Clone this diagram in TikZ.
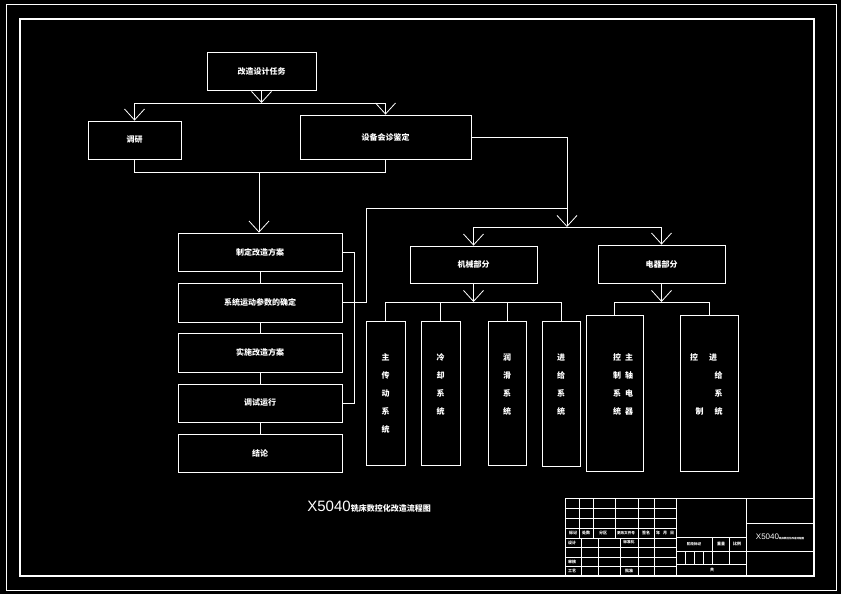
\documentclass[tikz,border=0pt]{standalone}
\usepackage{fontspec}
\setmainfont{Noto Sans CJK SC}
\newfontfamily\cadfont{Liberation Sans}
\usetikzlibrary{arrows.meta}

\begin{document}
\begin{tikzpicture}[x=1pt,y=-1pt,color=white,line width=0.8pt,
        >={Straight Barb[length=11pt,width=20pt]},
        box/.style={draw, rectangle, inner sep=0pt, font=\fontsize{8}{10}\selectfont\bfseries},
        vbox/.style={box, align=center, font=\fontsize{8}{18}\selectfont\bfseries},
        tb/.style={inner sep=0pt, font=\fontsize{4}{5}\selectfont\bfseries}]
    \fill[black] (0,0) rectangle (841,594);
    \useasboundingbox (0,0) rectangle (841,594);
    % frame
    \draw (6,4) rectangle (836,590);
    \draw[line width=2.4pt] (20,19) rectangle (814,576);

    % upper part
    \node (task) [box, minimum width=109pt, minimum height=38pt] at (261.5,71) {改造设计任务};
    \node (survey) [box, minimum width=93pt, minimum height=38pt] at (134.5,140) {调研};
    \node (diag) [box, minimum width=171pt, minimum height=44pt] at (385.5,137) {设备会诊鉴定};
    \coordinate (bus1) at (259,103);
    \coordinate (bus2) at (259,172);

    \draw[->] (task.south) -- (task.south |- bus1);
    \draw (survey.north |- bus1) -- (diag.north |- bus1);
    \draw[->] (survey.north |- bus1) -- (survey.north);
    \draw[->] (diag.north |- bus1) -- (diag.north);
    \draw (survey.south) -- (survey.south |- bus2) -- (diag.south |- bus2) -- (diag.south);

    % left column
    \node (plan) [box, minimum width=164pt, minimum height=38pt] at (260,252) {制定改造方案};
    \node (param) [box, minimum width=164pt, minimum height=39pt] at (260,302.5) {系统运动参数的确定};
    \node (apply) [box, minimum width=164pt, minimum height=39pt] at (260,352.5) {实施改造方案};
    \node (debug) [box, minimum width=164pt, minimum height=38pt] at (260,403) {调试运行};
    \node (result) [box, minimum width=164pt, minimum height=38pt] at (260,453) {结论};

    \draw[->] (bus2) -- (bus2 |- plan.north);
    \draw (plan) -- (param);
    \draw (param) -- (apply);
    \draw (apply) -- (debug);
    \draw (debug) -- (result);
    \draw (plan.east) -- ++(12,0) |- (debug.east);

    % right part
    \coordinate (bus4) at (567,227);
    \coordinate (fb) at (366,208);
    \draw[->] (diag.east) -| (bus4);
    \draw (param.east) -| (fb) -- (fb -| bus4);

    \node (mech) [box, minimum width=127pt, minimum height=37pt] at (473.5,264.5) {机械部分};
    \node (elec) [box, minimum width=127pt, minimum height=38pt] at (661.5,264) {电器部分};
    \draw (mech.north |- bus4) -- (elec.north |- bus4);
    \draw[->] (mech.north |- bus4) -- (mech.north);
    \draw[->] (elec.north |- bus4) -- (elec.north);

    \node (drive) [vbox, minimum width=39pt, minimum height=144pt] at (385.5,393) {主\\传\\动\\系\\统};
    \node (cool) [vbox, minimum width=39pt, minimum height=144pt] at (440.5,393) {冷\\却\\系\\统\\\mbox{}};
    \node (lube) [vbox, minimum width=38pt, minimum height=144pt] at (507,393) {润\\滑\\系\\统\\\mbox{}};
    \node (feed) [vbox, minimum width=38pt, minimum height=145pt] at (561,393.5) {进\\给\\系\\统\\\mbox{}};
    \node (ctrl) [vbox, minimum width=57pt, minimum height=156pt] at (614.5,393)
        {\hspace*{17pt}控\hspace{4pt}主\\\hspace*{17pt}制\hspace{4pt}轴\\\hspace*{17pt}系\hspace{4pt}电\\\hspace*{17pt}统\hspace{4pt}器\\\mbox{}};
    \node (feedctrl) [vbox, minimum width=58pt, minimum height=156pt] at (709,393)
        {控\hspace{11pt}进\hspace*{11pt}\\\hphantom{控}\hspace{11pt}给\hspace*{11pt}\\\hphantom{控}\hspace{11pt}系\hspace*{11pt}\\制\hspace{11pt}统\hspace*{11pt}\\\mbox{}};

    \coordinate (bus5) at (473,302);
    \draw[->] (mech.south) -- (mech.south |- bus5);
    \draw (drive.north |- bus5) -- (feed.north |- bus5);
    \draw (drive.north |- bus5) -- (drive.north);
    \draw (cool.north |- bus5) -- (cool.north);
    \draw (lube.north |- bus5) -- (lube.north);
    \draw (feed.north |- bus5) -- (feed.north);

    \draw[->] (elec.south) -- (elec.south |- bus5);
    \draw (ctrl.north |- bus5) -- (feedctrl.north |- bus5);
    \draw (ctrl.north |- bus5) -- (ctrl.north);
    \draw (feedctrl.north |- bus5) -- (feedctrl.north);

    % title
    \node (title) [inner sep=0pt, anchor=base west] at (307,511)
        {{\cadfont\fontsize{15}{16}\selectfont X5040}{\fontsize{8}{10}\selectfont\bfseries 铣床数控化改造流程图}};

    % title block
    \begin{scope}[line width=0.7pt]
        \draw (565,498) rectangle (814,576);
        \foreach \y in {508,518,528,538,547,557,566} \draw (565,\y) -- (676,\y);
        \foreach \x in {579,593,615,638,654} \draw (\x,498) -- (\x,538);
        \foreach \x in {581,598,620,638,654} \draw (\x,538) -- (\x,576);
        \draw (676,498) -- (676,576);
        \draw (746,498) -- (746,576);
        \foreach \y in {537,551,564} \draw (676,\y) -- (746,\y);
        \foreach \x in {712,729} \draw (\x,537) -- (\x,564);
        \foreach \x in {685,694,703} \draw (\x,551) -- (\x,564);
        \draw (746,523) -- (814,523);
        \draw (746,551) -- (814,551);
    \end{scope}
    \node (t1) [tb] at (573,533) {标记};
    \node (t2) [tb] at (586,533) {处数};
    \node (t3) [tb] at (603,533) {分区};
    \node (t4) [tb, font=\fontsize{3.6}{4}\selectfont\bfseries] at (626,533) {更改文件号};
    \node (t5) [tb] at (646,533) {签名};
    \node (t6) [tb] at (665,533) {年\hspace{3pt}月\hspace{3pt}日};
    \node (t7) [tb] at (572,542.5) {设计};
    \node (t8) [tb, font=\fontsize{3.7}{4}\selectfont\bfseries] at (629,542.5) {标准化};
    \node (t9) [tb] at (572,561.5) {审核};
    \node (t10) [tb] at (572,571) {工艺};
    \node (t11) [tb] at (629,571) {批准};
    \node (t12) [tb, font=\fontsize{3.6}{4}\selectfont\bfseries] at (694,544) {阶段标记};
    \node (t13) [tb] at (721,544) {重量};
    \node (t14) [tb] at (737,544) {比例};
    \node (t15) [tb] at (712,570) {共};
    \node (t16) [inner sep=0pt] at (780,537)
        {{\cadfont\fontsize{8}{9}\selectfont X5040}{\fontsize{2.5}{3}\selectfont\bfseries 铣床数控化改造流程图}};
\end{tikzpicture}
\end{document}
